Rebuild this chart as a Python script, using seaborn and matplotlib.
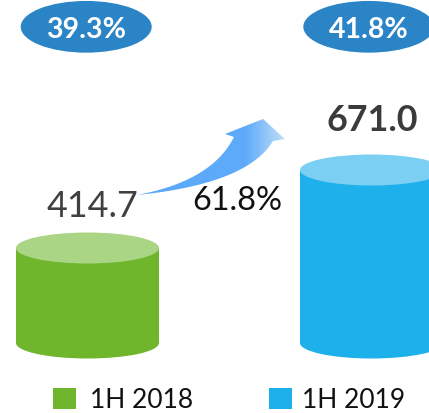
import numpy as np
import matplotlib
matplotlib.use("Agg")
import matplotlib.pyplot as plt
import seaborn as sns
from matplotlib.patches import Ellipse, Rectangle, Polygon
from matplotlib.colors import LinearSegmentedColormap

# data
categories = ["1H 2018", "1H 2019"]
revenue = [414.7, 671.0]
value_labels = ["414.7", "671.0"]
share_labels = ["39.3%", "41.8%"]
growth_label = "61.8%"

body_colors = ["#70b62c", "#1eb0ea"]
top_colors = ["#a9d585", "#7bcff3"]
badge_color = "#2a84c6"

plt.rcParams["font.family"] = ["Lato", "DejaVu Sans"]

W, H = 429, 413
fig = plt.figure(figsize=(W / 100, H / 100), dpi=100)

# axes for the cylinders, its bottom edge is the base of the cylinders
base_px = 70
ax = fig.add_axes([0, base_px / H, 1, 1 - base_px / H])
ymin, ymax = 102.5, 1229.7
bar_w = 0.5035
sns.barplot(x=categories, y=revenue, hue=categories, palette=body_colors,
            width=bar_w, saturation=1, errorbar=None, legend=False,
            linewidth=0, ax=ax)
ax.set_xlim(-0.3081, 1.2025)
ax.set_ylim(ymin, ymax)
ax.axis("off")

ell_h = 31 * (ymax - ymin) / (H - base_px)
label_offsets = [(3.2, 22.1), (0.4, 28.3)]
label_styles = [("normal", "#404040"), ("bold", "#3b3b3b")]
for i, v in enumerate(revenue):
    ax.add_patch(Ellipse((i, ymin), bar_w, ell_h, color=body_colors[i],
                         lw=0, clip_on=False, zorder=0.5))
    ax.add_patch(Ellipse((i, v), bar_w, ell_h, color=top_colors[i],
                         lw=0, clip_on=False, zorder=3))
    w, c = label_styles[i]
    ax.annotate(value_labels[i], xy=(i, v), xytext=label_offsets[i],
                textcoords="offset points", ha="center", va="baseline",
                fontsize=25.8, fontweight=w, color=c, annotation_clip=False)

# overlay in pixel coordinates for badges, arrow and legend
ov = fig.add_axes([0, 0, 1, 1])
ov.axis("off")

badge_x = [86.2, 368.8]
for bx, lab in zip(badge_x, share_labels):
    ov.add_patch(Ellipse((bx, 26.8), 131, 51.7, color=badge_color, lw=0))
    ov.text(bx, 38.3, lab, ha="center", va="baseline", color="white",
            fontsize=20.5, fontweight="bold")


def qbez(p0, p1, p2, n=40):
    t = np.linspace(0, 1, n)[:, None]
    p0, p1, p2 = np.array(p0), np.array(p1), np.array(p2)
    return (1 - t) ** 2 * p0 + 2 * (1 - t) * t * p1 + t ** 2 * p2


upper = qbez((137, 195), (212, 181), (234, 137))
lower = qbez((273, 141), (247, 184), (137, 195))
head = np.array([[225, 134], [263, 119], [285, 139]])
arrow = Polygon(np.vstack([upper, head, lower]), closed=True,
                facecolor="none", edgecolor="none")
ov.add_patch(arrow)
cmap = LinearSegmentedColormap.from_list(
    "arr", [(0, "#5aa8f8"), (0.73, "#5eabfb"), (1, "#c2e0f7")])
grad = np.linspace(0, 1, 256)[None, :]
im = ov.imshow(grad, extent=[137, 286, 196, 117], aspect="auto", cmap=cmap)
im.set_clip_path(arrow)

ov.text(237.5, 210, growth_label, ha="center", va="baseline",
        fontsize=23.4, color="#111111")

# legend
legend_x = [(53.3, 90), (269.3, 301.7)]
for (sx, tx), lab, col in zip(legend_x, categories, body_colors):
    ov.add_patch(Rectangle((sx, 387.5), 23, 21.5, color=col, lw=0))
    ov.text(tx, 408.5, lab, ha="left", va="baseline", fontsize=19,
            color="#111111")

ov.set_xlim(0, W)
ov.set_ylim(H, 0)

fig.savefig("out.png", dpi=100)
